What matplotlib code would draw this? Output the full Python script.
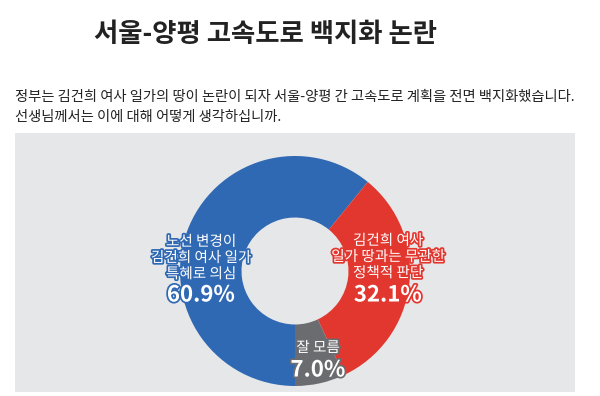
import matplotlib
matplotlib.use("Agg")
import matplotlib.pyplot as plt
import matplotlib.patheffects as pe
from matplotlib.patches import Rectangle

plt.rcParams['font.family'] = ['Noto Sans CJK KR', 'DejaVu Sans']

# data
title = "서울-양평 고속도로 백지화 논란"
question = ["정부는 김건희 여사 일가의 땅이 논란이 되자 서울-양평 간 고속도로 계획을 전면 백지화했습니다.",
            "선생님께서는 이에 대해 어떻게 생각하십니까."]
labels = ["노선 변경이\n김건희 여사 일가\n특혜로 의심",
          "김건희 여사\n일가 땅과는 무관한\n정책적 판단",
          "잘 모름"]
values = [60.9, 32.1, 7.0]
colors = ["#2f68b3", "#e2372f", "#6b6c6f"]

W, H = 600, 396
fig = plt.figure(figsize=(W / 100, H / 100), dpi=100)
fig.patch.set_facecolor("white")


def fx(px):
    return px / W


def fy(py):
    return 1 - py / H


# ─── header ────────────────────────────────────────────────
fig.text(fx(265), fy(35), title, ha="center", va="center",
         fontsize=19, fontweight="bold", color="#222222")
fig.text(fx(15), fy(97), question[0], ha="left", va="center",
         fontsize=10.3, color="#222222")
fig.text(fx(15), fy(117), question[1], ha="left", va="center",
         fontsize=10.3, color="#222222")

# grey panel
fig.patches.append(Rectangle((fx(15), fy(392)), fx(560), (392 - 133) / H,
                             transform=fig.transFigure, facecolor="#e6e7e9",
                             edgecolor="none", zorder=-1))

# ─── donut ─────────────────────────────────────────────────
cx, cy, r = 295, 271, 115
ax = fig.add_axes([fx(cx - r), fy(cy + r), 2 * r / W, 2 * r / H])
ax.set_zorder(1)
ax.patch.set_visible(False)
ax.pie(values, colors=colors, startangle=270, counterclock=False,
       radius=1, wedgeprops=dict(width=0.535, edgecolor="none"))
ax.set_xlim(-1, 1)
ax.set_ylim(-1, 1)
ax.set_aspect("equal")
ax.axis("off")

# label placement (pixel centres of label block)
label_pos = [(201, 258), (388, 257), (318, 348)]
pct_pos = [(201, 295), (388, 295), (318, 370)]
for lab, val, col, (lx, ly), (px, py) in zip(labels, values, colors, label_pos, pct_pos):
    stroke = [pe.Stroke(linewidth=2.5, foreground=col), pe.Normal()]
    fig.text(fx(lx), fy(ly), lab, ha="center", va="center", fontsize=10.5,
             color="white", linespacing=1.2, path_effects=stroke, zorder=5)
    fig.text(fx(px), fy(py), f"{val:.1f}%", ha="center", va="center",
             fontsize=16, fontweight="bold", color="white",
             path_effects=stroke, zorder=5)

fig.savefig("out.png", dpi=100)
